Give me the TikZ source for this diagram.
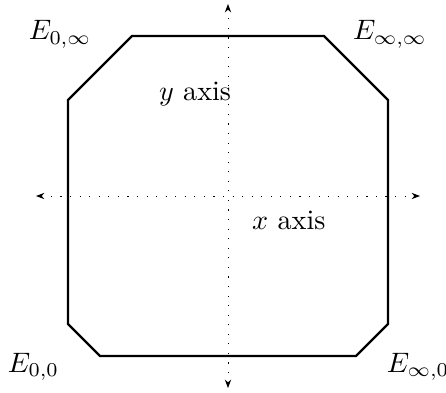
\documentclass[tikz,border=0pt]{standalone}
\usepackage{tikz}
\usetikzlibrary{arrows.meta, positioning}
\usepackage{amsmath}
\usepackage{amssymb}

\begin{document}
\begin{tikzpicture}[x=0.4cm, y=0.4cm]
  \useasboundingbox (-7.125,-6.125) rectangle (6.8125,6.125);

  % Axes
  \draw[line width=0.3pt, dash pattern=on 0.4pt off 3pt, {Stealth[length=3pt]}-{Stealth[length=3pt]}] (-6,0) -- (6,0);
  \draw[line width=0.3pt, dash pattern=on 0.4pt off 3pt, {Stealth[length=3pt]}-{Stealth[length=3pt]}] (0,-6) -- (0,6);
  \node (xlab) at (1.9,-0.75) {$x$ axis};
  \node (ylab) at (-1.03,3.2) {$y$ axis};

  % Boundary
  \draw[thick] (-3,5) -- (3,5) -- (5,3) -- (5,-4) -- (4,-5) -- (-4,-5) -- (-5,-4) -- (-5,3) -- cycle;

  % Corner labels
  \node (e0i) at (-5.25,5.05) {$E_{0,\infty}$};
  \node (eii) at (5.06,5.05) {$E_{\infty,\infty}$};
  \node (e00) at (-6.08,-5.34) {$E_{0,0}$};
  \node (ei0) at (5.94,-5.34) {$E_{\infty,0}$};

\end{tikzpicture}
\end{document}
